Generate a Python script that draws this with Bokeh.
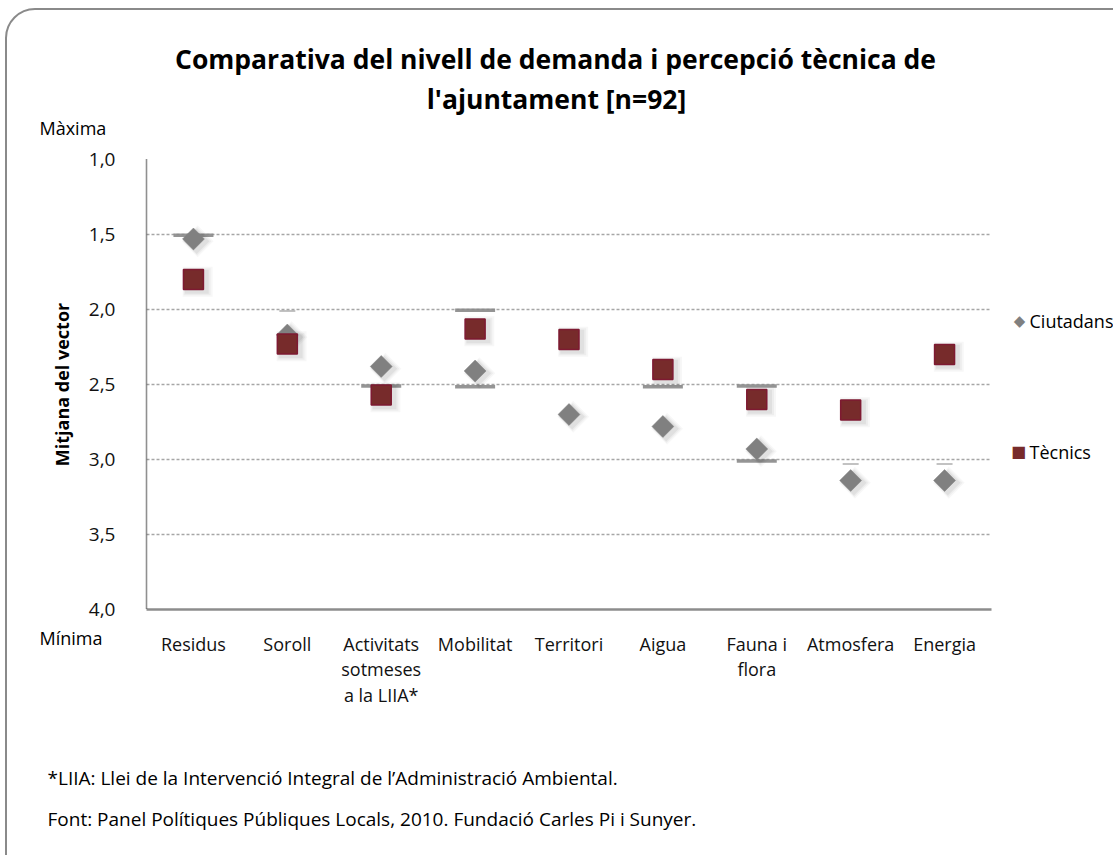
import numpy as np
from bokeh.plotting import figure
from bokeh.models import (Range1d, FactorRange, FixedTicker, Label, InlineStyleSheet,
                          ColumnDataSource, CustomJSTickFormatter)
from bokeh.transform import dodge
from bokeh.embed import file_html
from bokeh.resources import INLINE

# ---------------- data ----------------
categories = ["Residus", "Soroll", "Activitats\nsotmeses\na la LIIA*", "Mobilitat",
              "Territori", "Aigua", "Fauna i\nflora", "Atmosfera", "Energia"]
ciutadans = [1.53, 2.17, 2.38, 2.41, 2.70, 2.78, 2.93, 3.14, 3.14]
tecnics = [1.80, 2.23, 2.57, 2.13, 2.20, 2.40, 2.60, 2.67, 2.30]
y_ticks = [1.0, 1.5, 2.0, 2.5, 3.0, 3.5, 4.0]

# faint grey strokes visible in the original image
ratlles_cat = ["Residus", categories[2], "Mobilitat", "Mobilitat", "Aigua",
               categories[6], categories[6]]
ratlles_val = [1.505, 2.51, 2.005, 2.515, 2.515, 2.51, 3.01]
ratlles_petites_cat = ["Soroll", "Atmosfera", "Energia"]
ratlles_petites_val = [2.01, 3.03, 3.03]

title_lines = ["Comparativa del nivell de demanda i percepció tècnica de",
               "l'ajuntament [n=92]"]
y_title = "Mitjana del vector"
y_extremes = ["Màxima", "Mínima"]
legend_names = ["Ciutadans", "Tècnics"]
notes = ["*LIIA: Llei de la Intervenció  Integral  de l\u2019Administració Ambiental.",
         "Font: Panel Polítiques Públiques Locals, 2010. Fundació Carles Pi i Sunyer."]

FONT = "Open Sans"
GREY = "#808080"
MAROON = "#772B2B"

W, H = 1113, 855
p = figure(width=W, height=H, x_range=FactorRange(*categories), y_range=Range1d(4, 1),
           output_backend="svg", toolbar_location=None,
           min_border_left=146, min_border_right=122, min_border_top=159, min_border_bottom=246)
p.outline_line_color = None
p.background_fill_color = "white"
p.border_fill_color = "white"

# grid
p.xgrid.grid_line_color = None
p.ygrid.ticker = FixedTicker(ticks=y_ticks)
p.ygrid.grid_line_color = "#A6A6A6"
p.ygrid.grid_line_dash = "3 2"
p.ygrid.grid_line_width = 1.3

# y axis
p.yaxis.ticker = FixedTicker(ticks=y_ticks)
p.yaxis.formatter = CustomJSTickFormatter(code="return tick.toFixed(1).replace('.', ',');")
p.yaxis.axis_line_dash = "1 1"
p.yaxis.axis_line_color = "#222222"
p.yaxis.axis_line_width = 1.6
p.yaxis.major_tick_line_color = None
p.yaxis.minor_tick_line_color = None
p.yaxis.major_label_standoff = 25
p.yaxis.major_label_text_font = FONT
p.yaxis.major_label_text_font_size = "19px"
p.yaxis.major_label_text_color = "#111111"
p.yaxis.axis_label = y_title
p.yaxis.axis_label_text_font = FONT
p.yaxis.axis_label_text_font_size = "18px"
p.yaxis.axis_label_text_font_style = "bold"
p.yaxis.axis_label_text_color = "#000000"
p.yaxis.axis_label_standoff = 12

# x axis
p.xaxis.axis_line_color = "#8C8C8C"
p.xaxis.axis_line_width = 2.5
p.xaxis.major_tick_line_color = None
p.xaxis.minor_tick_line_color = None
p.xaxis.major_label_standoff = 16
p.xaxis.major_label_text_font = FONT
p.xaxis.major_label_text_font_size = "18px"
p.xaxis.major_label_text_color = "#111111"
p.xaxis.major_label_text_line_height = 1.08
p.xaxis.major_label_orientation = "horizontal"

src = ColumnDataSource(dict(cat=categories, ciu=ciutadans, tec=tecnics))
rsrc = ColumnDataSource(dict(cat=ratlles_cat, val=ratlles_val))
rpsrc = ColumnDataSource(dict(cat=ratlles_petites_cat, val=ratlles_petites_val))

# strokes
p.scatter(x="cat", y="val", source=rsrc, marker="dash", size=40, line_color="#8A8A8A",
          line_width=3.5, line_alpha=0.9)
p.scatter(x="cat", y="val", source=rpsrc, marker="dash", size=16, line_color="#9A9A9A",
          line_width=2, line_alpha=0.6)

# soft shadows
for off, sz, a in ((0.045, 30, 0.03), (0.04, 27, 0.04), (0.035, 24, 0.05)):
    p.scatter(x=dodge("cat", off, range=p.x_range), y=dodge("ciu", 0.015), source=src,
              marker="square", angle=np.pi / 4, size=sz * 0.75, fill_color="#000000",
              fill_alpha=a, line_color=None)
    p.scatter(x=dodge("cat", off, range=p.x_range), y=dodge("tec", 0.015), source=src,
              marker="square", size=sz, fill_color="#000000", fill_alpha=a, line_color=None)

# points
p.scatter(x="cat", y="ciu", source=src, marker="square", angle=np.pi / 4, size=15.5,
          fill_color=GREY, line_color=GREY, line_width=0.5)
p.scatter(x="cat", y="tec", source=src, marker="square", size=20,
          fill_color=MAROON, line_color="#7E1A32", line_width=1.5)

# ---- texts outside the frame: labels in canvas units, placed in side panels ----
def lab(side, text, x, y, size, align="left", style="normal", color="#000000", font=FONT):
    p.add_layout(Label(x=x, y=y, x_units="canvas", y_units="canvas", text=text,
                       text_font=font, text_font_size=size, text_font_style=style,
                       text_align=align, text_baseline="middle", text_color=color), side)

lab("above", title_lines[0], 555, 58, "26.5px", align="center", style="bold")
lab("above", title_lines[1], 556, 98, "26.5px", align="center", style="bold")
lab("above", y_extremes[0], 39, 127, "18px")
lab("above", legend_names[0], 1029, 320, "18px")
lab("left", "\u25C6", 1019, 320, "15px", align="center", color=GREY, font="DejaVu Sans")
lab("left", "\u25A0", 1018, 451, "16px", align="center", color=MAROON, font="DejaVu Sans")
lab("below", y_extremes[1], 39, 637, "18px")
lab("below", legend_names[1], 1029, 451, "18px")
lab("below", notes[0], 47, 777, "19px")
lab("below", notes[1], 47, 818, "19px")

# outer rounded frame of the original picture (CSS only)
p.stylesheets = [InlineStyleSheet(css="""
:host { position: relative; overflow: hidden; }
:host::after { content: ""; position: absolute; left: 5px; top: 8px; width: 1150px;
  height: 880px; border: 2px solid #8A8A8A; border-radius: 30px; box-sizing: border-box;
  pointer-events: none; }
""")]

open("out.html", "w").write(file_html(p, INLINE))
